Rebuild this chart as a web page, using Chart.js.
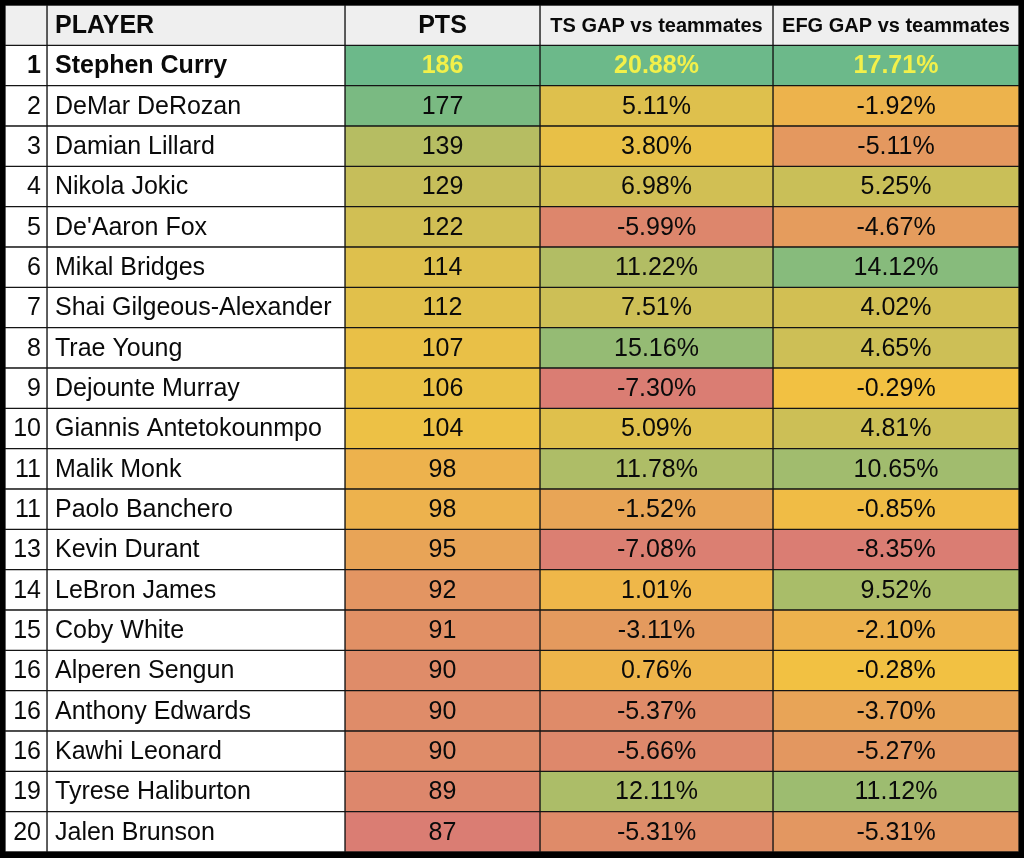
<!DOCTYPE html>
<html>
<head>
<meta charset="utf-8">
<script src="https://cdn.jsdelivr.net/npm/chart.js@4/dist/chart.umd.min.js"></script>
<style>
  html, body { margin: 0; padding: 0; background: #000; }
  #wrap { width: 1024px; height: 858px; position: relative; }
</style>
</head>
<body>
<div id="wrap"><canvas id="grafico"></canvas></div>
<script>
// table data
var headers = ["", "PLAYER", "PTS", "TS GAP vs teammates", "EFG GAP vs teammates"];
var ranks = ["1","2","3","4","5","6","7","8","9","10","11","11","13","14","15","16","16","16","19","20"];
var players = ["Stephen Curry","DeMar DeRozan","Damian Lillard","Nikola Jokic","De'Aaron Fox",
  "Mikal Bridges","Shai Gilgeous-Alexander","Trae Young","Dejounte Murray","Giannis Antetokounmpo",
  "Malik Monk","Paolo Banchero","Kevin Durant","LeBron James","Coby White",
  "Alperen Sengun","Anthony Edwards","Kawhi Leonard","Tyrese Haliburton","Jalen Brunson"];
var pts = [186,177,139,129,122,114,112,107,106,104,98,98,95,92,91,90,90,90,89,87];
var tsGap = [20.88,5.11,3.80,6.98,-5.99,11.22,7.51,15.16,-7.30,5.09,11.78,-1.52,-7.08,1.01,-3.11,0.76,-5.37,-5.66,12.11,-5.31];
var efgGap = [17.71,-1.92,-5.11,5.25,-4.67,14.12,4.02,4.65,-0.29,4.81,10.65,-0.85,-8.35,9.52,-2.10,-0.28,-3.70,-5.27,11.12,-5.31];

// column widths (layout)
var colWidths = [42, 298, 195, 233, 246];

var lowColor = [218,125,115];
var midColor = [242,193,66];
var highColor = [108,185,138];

function mix(a, b, t) {
  return 'rgb(' + Math.round(a[0]+(b[0]-a[0])*t) + ',' + Math.round(a[1]+(b[1]-a[1])*t) + ',' + Math.round(a[2]+(b[2]-a[2])*t) + ')';
}
function colorScale(values) {
  var s = values.slice().sort(function(a,b){return a-b;});
  var min = s[0], max = s[s.length-1];
  var n = s.length;
  var med = n % 2 ? s[(n-1)/2] : (s[n/2-1] + s[n/2]) / 2;
  return values.map(function(v){
    if (v <= med) return mix(lowColor, midColor, (v-min)/(med-min));
    return mix(midColor, highColor, (v-med)/(max-med));
  });
}

var rowLabels = ["header"].concat(players);
var headerBg = "#efefef";

var fills = [
  [headerBg].concat(players.map(function(){return "#ffffff";})),
  [headerBg].concat(players.map(function(){return "#ffffff";})),
  [headerBg].concat(colorScale(pts)),
  [headerBg].concat(colorScale(tsGap)),
  [headerBg].concat(colorScale(efgGap))
];

var cellText = [
  [""].concat(ranks),
  [headers[1]].concat(players),
  [headers[2]].concat(pts.map(String)),
  [headers[3]].concat(tsGap.map(function(v){return v.toFixed(2) + "%";})),
  [headers[4]].concat(efgGap.map(function(v){return v.toFixed(2) + "%";}))
];

var datasets = colWidths.map(function(w, i){
  return {
    label: headers[i],
    data: rowLabels.map(function(){ return w; }),
    backgroundColor: fills[i],
    borderColor: "#151515",
    borderWidth: 1,
    borderSkipped: false,
    barPercentage: 1,
    categoryPercentage: 1
  };
});

var textPlugin = {
  id: "cellText",
  afterDatasetsDraw: function(chart) {
    var ctx = chart.ctx;
    ctx.save();
    ctx.textBaseline = "middle";
    chart.data.datasets.forEach(function(ds, i){
      var meta = chart.getDatasetMeta(i);
      meta.data.forEach(function(el, j){
        var txt = cellText[i][j];
        if (!txt) return;
        var left = Math.min(el.base, el.x), right = Math.max(el.base, el.x);
        var bold = (j === 0 || j === 1);
        var size = 25;
        if (j === 0 && i >= 3) size = 20;
        ctx.font = (bold ? "bold " : "") + size + "px 'Liberation Sans', Arial, sans-serif";
        ctx.fillStyle = (j === 1 && i >= 2) ? "#f2f04a" : "#0a0a0a";
        var y = el.y + 1;
        if (i === 0) {
          ctx.textAlign = "right";
          ctx.fillText(txt, right - 6, y);
        } else if (i === 1) {
          ctx.textAlign = "left";
          ctx.fillText(txt, left + 8, y);
        } else {
          ctx.textAlign = "center";
          ctx.fillText(txt, (left + right) / 2, y);
        }
      });
    });
    ctx.restore();
  }
};

var ctx = document.getElementById('grafico').getContext('2d');
var chart = new Chart(ctx, {
  type: "bar",
  data: { labels: rowLabels, datasets: datasets },
  options: {
    indexAxis: "y",
    responsive: true,
    maintainAspectRatio: false,
    animation: false,
    layout: { padding: { left: 5, top: 5, right: 5, bottom: 6 } },
    scales: {
      x: { stacked: true, display: false, min: 0, max: 1014 },
      y: { stacked: true, display: false }
    },
    plugins: { legend: { display: false }, tooltip: { enabled: false } }
  },
  plugins: [textPlugin]
});
</script>
</body>
</html>
